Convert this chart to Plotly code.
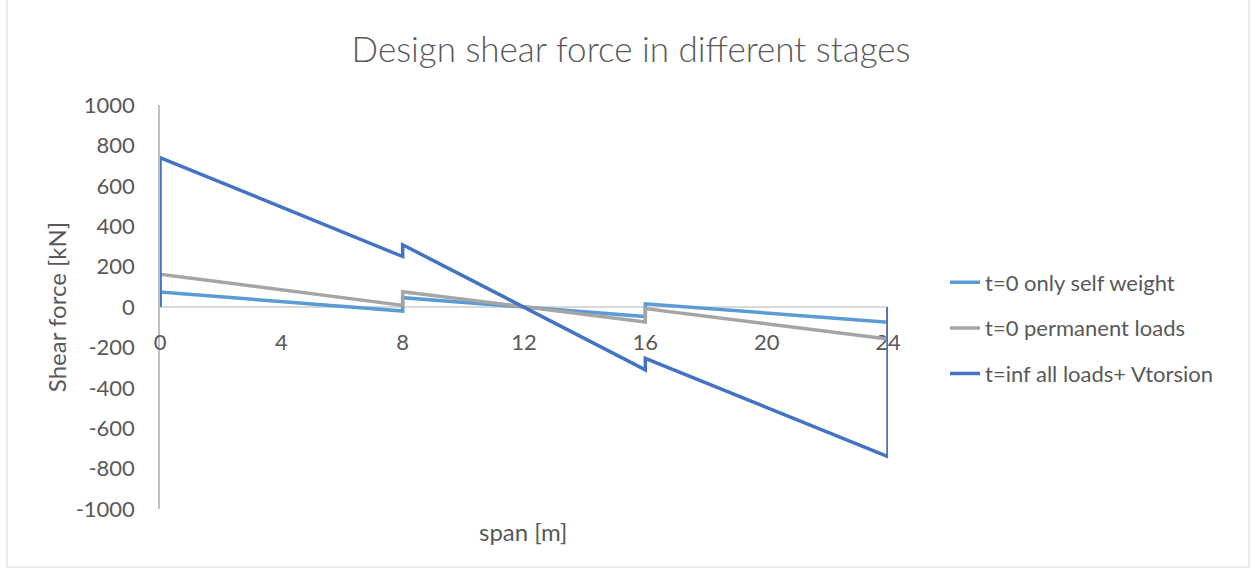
import plotly.graph_objects as go

# Shear force along the span, with the jumps at the supports (8 m and 16 m)
span_m = [0, 0, 8, 8, 16, 16, 24, 24]
v_self_weight = [0, 74, -20, 46, -47, 16, -76, 0]
v_permanent = [0, 162, 8, 76, -74, -8, -158, 0]
v_all_loads = [0, 740, 250, 308, -311, -254, -741, 0]

series_names = [
    "t=0 only self weight",
    "t=0 permanent loads",
    "t=inf all loads+ Vtorsion",
]
series_colors = ["#5B9BD5", "#A5A5A5", "#4472C4"]

x_ticks = [0, 4, 8, 12, 16, 20, 24]
y_ticks = [1000, 800, 600, 400, 200, 0, -200, -400, -600, -800, -1000]

FONT = "Lato"
TXT = "#595959"

W, H = 1255, 574
L, R, T, B = 160, 367, 105, 65
pw, ph = W - L - R, H - T - B


def px_x(p):
    return (p - L) / pw


def px_y(p):
    return (H - B - p) / ph


fig = go.Figure()
for name, vals, col in zip(series_names,
                           [v_self_weight, v_permanent, v_all_loads],
                           series_colors):
    fig.add_trace(go.Scatter(
        x=span_m, y=vals, mode="lines", name=name, legendgroup=name,
        line=dict(color=col, width=3.5),
    ))

fig.update_layout(
    width=W, height=H,
    margin=dict(l=L, r=R, t=T, b=B),
    paper_bgcolor="white", plot_bgcolor="white",
    font=dict(family=FONT, color=TXT, size=22),
    title=dict(
        text="Design shear force in different stages",
        x=px_x(631), xref="paper", xanchor="center",
        y=1 - 50 / H, yref="container", yanchor="middle",
        font=dict(family=FONT, size=35, color=TXT, weight=300),
    ),
    xaxis=dict(
        range=[0, 24], tickvals=x_ticks, ticktext=[str(v) for v in x_ticks],
        showgrid=False, zeroline=False,
        showline=True, linecolor="#D9D9D9", linewidth=1.5,
        anchor="free", position=0.5, ticks="", ticklabelstandoff=16,
        layer="below traces",
        tickfont=dict(family=FONT, size=22, color=TXT),
    ),
    yaxis=dict(
        range=[-1000, 1000], tickvals=y_ticks,
        ticktext=[str(v) for v in y_ticks],
        showgrid=False, zeroline=False,
        showline=True, linecolor="#BFBFBF", linewidth=1.5,
        ticks="", ticklabelstandoff=19, layer="below traces",
        tickfont=dict(family=FONT, size=22, color=TXT),
        title=dict(text="Shear force [kN]", standoff=2,
                   font=dict(family=FONT, size=24, color=TXT)),
    ),
    legend=dict(
        x=px_x(945), y=px_y(328), xanchor="left", yanchor="middle",
        traceorder="grouped", tracegroupgap=14,
        font=dict(family=FONT, size=22, color=TXT),
        bgcolor="rgba(0,0,0,0)",
    ),
    showlegend=True,
)

# x axis title sits under the plot area
fig.add_annotation(
    text="span [m]", x=px_x(523), y=px_y(531), xref="paper", yref="paper",
    xanchor="center", yanchor="middle", showarrow=False,
    font=dict(family=FONT, size=24, color=TXT),
)

# chart frame
frame = dict(type="line", xref="paper", yref="paper",
             line=dict(color="#D9D9D9", width=1.2))
fig.add_shape(**frame, x0=px_x(7), x1=px_x(7), y0=px_y(567), y1=px_y(0))
fig.add_shape(**frame, x0=px_x(1249), x1=px_x(1249), y0=px_y(567), y1=px_y(0))
fig.add_shape(**frame, x0=px_x(7), x1=px_x(1249), y0=px_y(567), y1=px_y(567))

fig.write_html("out.html")
